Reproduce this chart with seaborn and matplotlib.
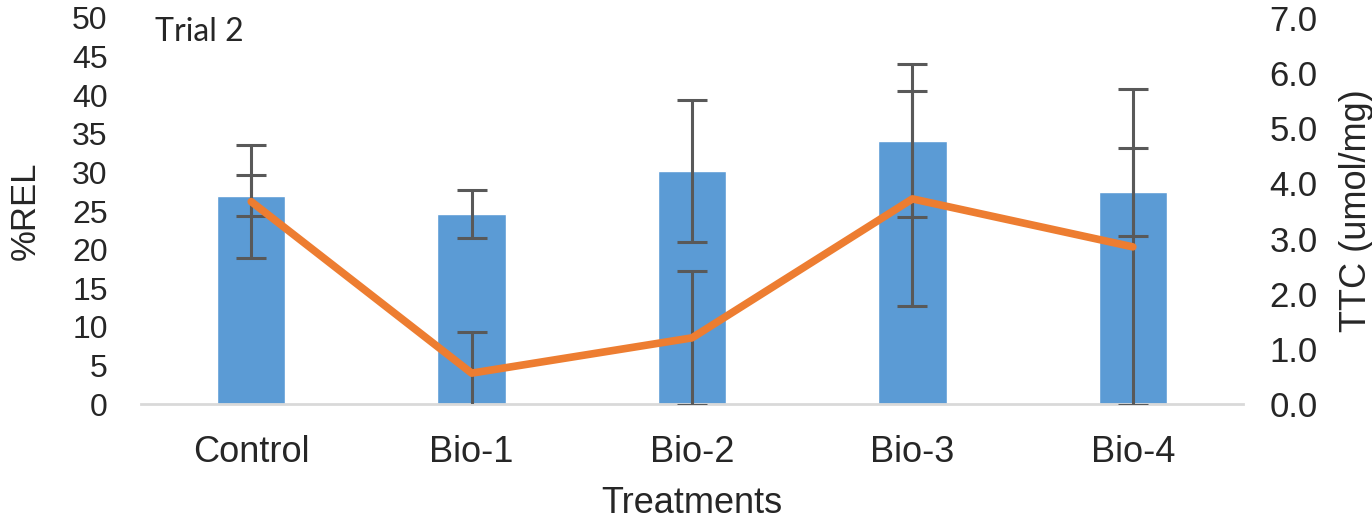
import matplotlib
matplotlib.use("Agg")
import matplotlib.pyplot as plt
import seaborn as sns
import pandas as pd
import numpy as np

# data
treatments = ["Control", "Bio-1", "Bio-2", "Bio-3", "Bio-4"]
rel = [27.0, 24.6, 30.2, 34.1, 27.4]          # %REL (bars, left axis)
rel_err = [2.6, 3.1, 9.2, 9.9, 5.7]
ttc = [3.67, 0.56, 1.20, 3.72, 2.85]          # TTC umol/mg (line, right axis)
ttc_err = [1.03, 0.74, 1.22, 1.95, 2.87]

df = pd.DataFrame({"Treatments": treatments, "REL": rel, "REL_err": rel_err,
                   "TTC": ttc, "TTC_err": ttc_err})

sns.set_style("white")
plt.rcParams["font.family"] = ["Liberation Sans", "DejaVu Sans"]

fig = plt.figure(figsize=(13.72, 5.2), dpi=100)
ax = fig.add_axes([0.1028, 0.223, 0.8032, 0.7424])

sns.barplot(data=df, x="Treatments", y="REL", color="#5B9BD5", saturation=1,
            width=0.31, ax=ax, zorder=2)
x = np.arange(len(treatments))
ax.errorbar(x, df["REL"], yerr=df["REL_err"], fmt="none", ecolor="#595959",
            elinewidth=2.2, capsize=11, capthick=2.2, zorder=3)

ax.set_ylim(0, 50)
ax.set_yticks(np.arange(0, 51, 5))
ax.set_xlim(-0.5, len(treatments) - 0.5)
ax.set_ylabel("%REL", fontsize=25, labelpad=22)
ax.set_xlabel("Treatments", fontsize=26, labelpad=12)
ax.tick_params(axis="y", labelsize=23, length=0, pad=24)
ax.tick_params(axis="x", labelsize=26, length=0, pad=22)
for s in ["top", "left", "right"]:
    ax.spines[s].set_visible(False)
ax.spines["bottom"].set_color("#D9D9D9")
ax.spines["bottom"].set_linewidth(2)

ax2 = ax.twinx()
ax2.errorbar(x, df["TTC"], yerr=df["TTC_err"], fmt="none", ecolor="#595959",
             elinewidth=2.2, capsize=11, capthick=2.2, zorder=2)
sns.lineplot(x=x, y=df["TTC"], color="#ED7D31", linewidth=5.5, ax=ax2,
             zorder=3, solid_capstyle="round")
ax2.set_ylim(0, 7)
ax2.set_yticks(np.arange(0, 7.01, 1))
ax2.set_yticklabels([f"{v:.1f}" for v in np.arange(0, 7.01, 1)])
ax2.set_ylabel("TTC (umol/mg)", fontsize=26, labelpad=15)
ax2.tick_params(axis="y", labelsize=25, length=0, pad=19)
for s in ["top", "left", "right", "bottom"]:
    ax2.spines[s].set_visible(False)

fig.text(0.113, 0.968, "Trial 2", fontsize=23, family=["Lato", "DejaVu Sans"],
         va="top", ha="left")

fig.savefig("out.png", dpi=100)
